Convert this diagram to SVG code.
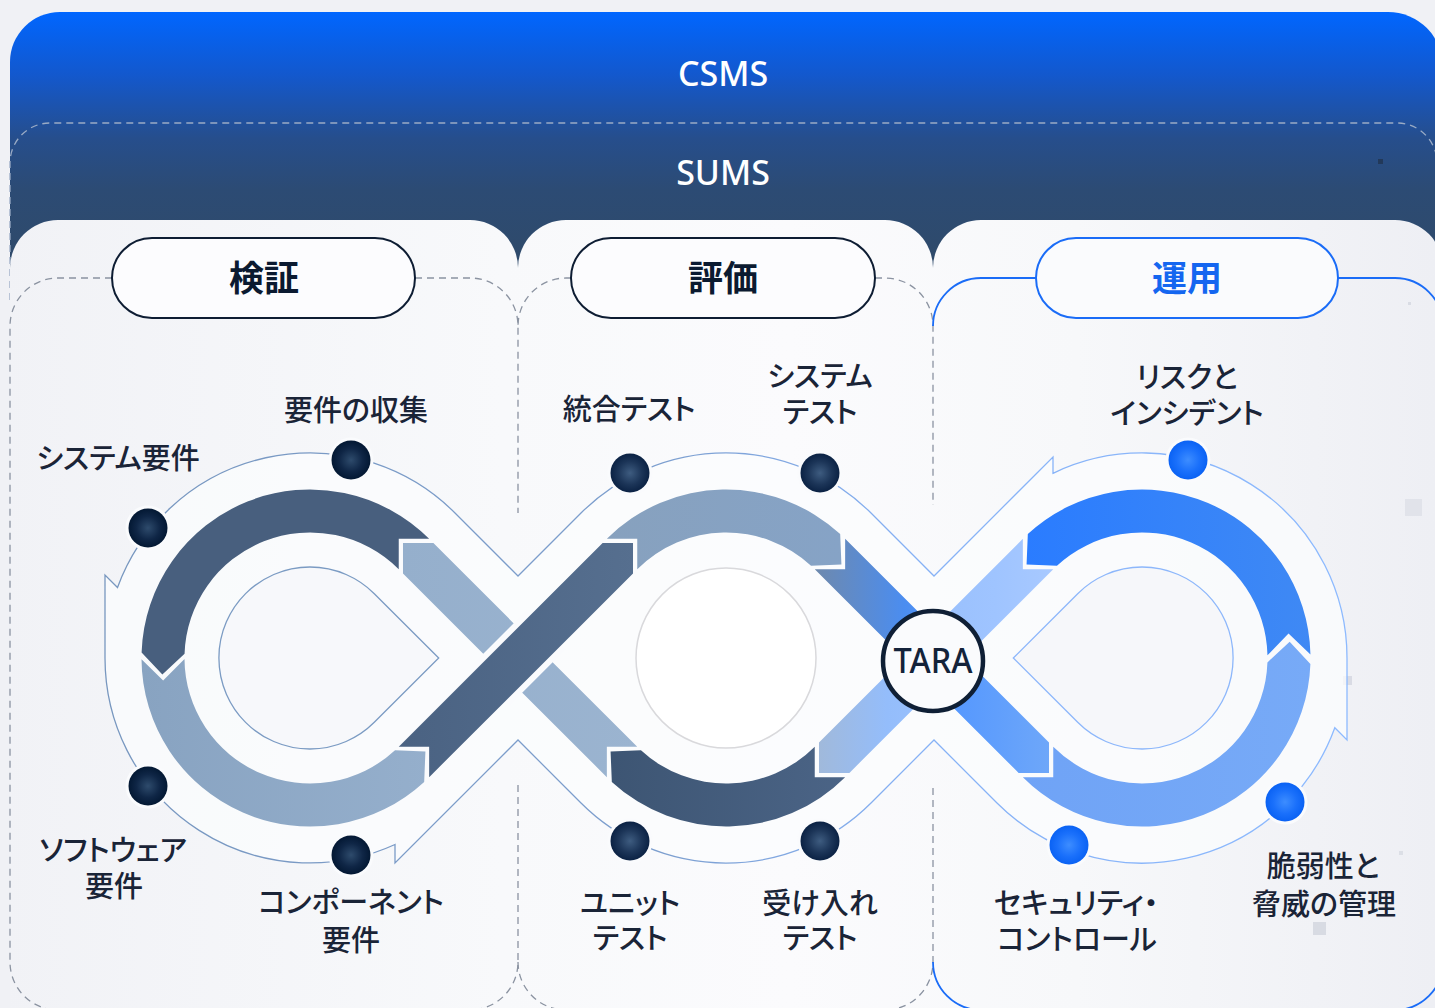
<svg xmlns="http://www.w3.org/2000/svg" width="1435" height="1008" viewBox="0 0 1435 1008">
<defs>
<style>
.lbl{font-family:'Noto Sans CJK JP','Noto Sans',sans-serif;font-size:29px;font-weight:500;fill:#1a2437;text-anchor:middle;font-feature-settings:"palt";}
.pt{font-family:'Noto Sans CJK JP','Noto Sans',sans-serif;font-size:35px;font-weight:700;text-anchor:middle;}
.hdr{font-family:'Noto Sans','Liberation Sans',sans-serif;font-size:34px;font-weight:500;fill:#ffffff;text-anchor:middle;}
.dash{fill:none;stroke:#8b93a1;stroke-width:1.3;stroke-dasharray:7 5;}
.dot{stroke:#fafbfd;stroke-width:6;paint-order:stroke;}
</style>
<linearGradient id="gHead" x1="0" y1="12" x2="0" y2="265" gradientUnits="userSpaceOnUse">
<stop offset="0" stop-color="#0066ff"/><stop offset="0.25" stop-color="#1358cd"/><stop offset="0.5" stop-color="#264e8c"/><stop offset="0.7" stop-color="#2c4b74"/><stop offset="1" stop-color="#2f4a6a"/>
</linearGradient>
<linearGradient id="gPanel" x1="0" y1="0" x2="1435" y2="0" gradientUnits="userSpaceOnUse">
<stop offset="0" stop-color="#f1f2f6"/><stop offset="0.35" stop-color="#f8f9fb"/><stop offset="0.55" stop-color="#fbfbfd"/><stop offset="0.75" stop-color="#f7f8fa"/><stop offset="1" stop-color="#eeeff4"/>
</linearGradient>
<linearGradient id="gLine" x1="100" y1="0" x2="1350" y2="0" gradientUnits="userSpaceOnUse">
<stop offset="0" stop-color="#7897bf"/><stop offset="0.45" stop-color="#7d9fcf"/><stop offset="0.65" stop-color="#86b1f5"/><stop offset="1" stop-color="#8dbaff"/>
</linearGradient>
<linearGradient id="gB" x1="140" y1="0" x2="430" y2="0" gradientUnits="userSpaceOnUse"><stop offset="0" stop-color="#88a3c1"/><stop offset="1" stop-color="#95afcc"/></linearGradient>
<linearGradient id="gC" x1="400" y1="0" x2="635" y2="0" gradientUnits="userSpaceOnUse"><stop offset="0" stop-color="#4a6282"/><stop offset="1" stop-color="#566f8f"/></linearGradient>
<linearGradient id="gD" x1="606" y1="0" x2="842" y2="0" gradientUnits="userSpaceOnUse"><stop offset="0" stop-color="#87a1be"/><stop offset="1" stop-color="#86a3c6"/></linearGradient>
<linearGradient id="gE" x1="815" y1="0" x2="1050" y2="0" gradientUnits="userSpaceOnUse"><stop offset="0" stop-color="#6e89ad"/><stop offset="0.38" stop-color="#4b8df0"/><stop offset="0.62" stop-color="#5799fe"/><stop offset="1" stop-color="#6ea7f9"/></linearGradient>
<linearGradient id="gH" x1="815" y1="0" x2="1055" y2="0" gradientUnits="userSpaceOnUse"><stop offset="0" stop-color="#a1b9d9"/><stop offset="0.3" stop-color="#94bdfb"/><stop offset="0.75" stop-color="#9fc4ff"/><stop offset="1" stop-color="#a8c9ff"/></linearGradient>
<linearGradient id="gF" x1="1020" y1="0" x2="1312" y2="0" gradientUnits="userSpaceOnUse"><stop offset="0" stop-color="#6fa3f6"/><stop offset="1" stop-color="#77aaf7"/></linearGradient>
<linearGradient id="gG" x1="1025" y1="0" x2="1312" y2="0" gradientUnits="userSpaceOnUse"><stop offset="0" stop-color="#2a7cff"/><stop offset="1" stop-color="#3f89f4"/></linearGradient>
<linearGradient id="gI" x1="610" y1="0" x2="846" y2="0" gradientUnits="userSpaceOnUse"><stop offset="0" stop-color="#3d5573"/><stop offset="1" stop-color="#4b6486"/></linearGradient>
<linearGradient id="gJ" x1="402" y1="0" x2="638" y2="0" gradientUnits="userSpaceOnUse"><stop offset="0" stop-color="#95afcc"/><stop offset="1" stop-color="#9bb4d0"/></linearGradient>
<radialGradient id="dNavy" cx="0.5" cy="0.5" r="0.5"><stop offset="0" stop-color="#2e4b6c"/><stop offset="0.6" stop-color="#0f2646"/><stop offset="1" stop-color="#031833"/></radialGradient>
<radialGradient id="dNavy2" cx="0.5" cy="0.5" r="0.5"><stop offset="0" stop-color="#3e5c80"/><stop offset="0.6" stop-color="#1c3558"/><stop offset="1" stop-color="#0b2244"/></radialGradient>
<radialGradient id="dBlue" cx="0.5" cy="0.5" r="0.5"><stop offset="0" stop-color="#3d8dff"/><stop offset="0.6" stop-color="#1a70fb"/><stop offset="1" stop-color="#0a62f4"/></radialGradient>
</defs>

<rect width="1435" height="1008" fill="#f0f1f5"/>

<g id="csms">
<path d="M10,62 A50,50 0 0 1 60,12 H1388 A55,55 0 0 1 1443,67 V300 H10 Z" fill="url(#gHead)"/>
<text class="hdr" x="723" y="86">CSMS</text>
</g>
<g id="sums">
<path d="M10,300 V163 A40,40 0 0 1 50,123 H1397 A40,40 0 0 1 1437,163 V300" fill="none" stroke="#9aabc5" stroke-width="1.3" stroke-dasharray="7 5"/>
<text class="hdr" x="723" y="185">SUMS</text>
<rect x="1378" y="159" width="5" height="5" fill="#22395a"/>
</g>

<g id="panels">
<path d="M10,268 A48,48 0 0 1 58,220 H470 A48,48 0 0 1 518,268 V1008 H10 Z" fill="url(#gPanel)"/>
<path d="M518,268 A48,48 0 0 1 566,220 H885 A48,48 0 0 1 933,268 V1008 H518 Z" fill="url(#gPanel)"/>
<path d="M933,268 A48,48 0 0 1 981,220 H1395 A48,48 0 0 1 1443,268 V1008 H933 Z" fill="url(#gPanel)"/>
<rect x="1405" y="499" width="17" height="17" fill="#e1e3ea"/>
<rect x="1343" y="676" width="9" height="9" fill="#d9dbe4"/>
<rect x="1313" y="922" width="13" height="13" fill="#d8dbe3"/>
<rect x="1399" y="851" width="4" height="4" fill="#dcdfe6"/>
<rect x="1408" y="302" width="3" height="3" fill="#d9dce4"/>
</g>

<g id="borders">
<path class="dash" d="M112,278 H58 A48,48 0 0 0 10,326 V962 A48,48 0 0 0 58,1010"/>
<path class="dash" d="M415,278 H470 A48,48 0 0 1 518,326 V513"/>
<path class="dash" d="M518,785 V962 A48,48 0 0 1 470,1010"/>
<path class="dash" d="M571,278 H566 A48,48 0 0 0 518,326"/>
<path class="dash" d="M518,962 A48,48 0 0 0 566,1010"/>
<path class="dash" d="M875,278 H885 A48,48 0 0 1 933,326 V505"/>
<path class="dash" d="M933,788 V962 A48,48 0 0 1 885,1010"/>
<path d="M933,326 A48,48 0 0 1 981,278 H1036 M1338,278 H1395 A48,48 0 0 1 1443,326 V962 A48,48 0 0 1 1395,1010 H981 A48,48 0 0 1 933,962" fill="none" stroke="#1a6cf7" stroke-width="1.8"/>
</g>

<g id="pill-kensho">
<rect x="112" y="238" width="303" height="80" rx="40" fill="#fcfcfe" stroke="#0e1d33" stroke-width="2"/>
<text class="pt" x="264" y="291" fill="#0b1a30">検証</text>
</g>
<g id="pill-hyoka">
<rect x="571" y="238" width="304" height="80" rx="40" fill="#fcfcfe" stroke="#0e1d33" stroke-width="2"/>
<text class="pt" x="723" y="291" fill="#0b1a30">評価</text>
</g>
<g id="pill-unyo">
<rect x="1036" y="238" width="302" height="80" rx="40" fill="#fafbfd" stroke="#1a6cf7" stroke-width="2"/>
<text class="pt" x="1187" y="291" fill="#1466f0">運用</text>
</g>

<g id="connectors">
<path d="M518,576 L455,513 A205,205 0 0 0 117.5,587.5 L105,575 L105,658 A205,205 0 0 0 395,844.5 L395,863 L518,740 L581,803 A205,205 0 0 0 871,803 L934,740 L997,803 A205,205 0 0 0 1334.8,727.8 L1347,740 L1347,658 A205,205 0 0 0 1053,473.3 L1053,457 L934,576 L871,513 A205,205 0 0 0 581,513 Z" fill="#fbfcfe" fill-opacity="0.75" stroke="url(#gLine)" stroke-width="1.3"/>
<path d="M438.7,658 L374.3,593.7 A91,91 0 1 0 374.3,722.3 Z" fill="#f7f8fb" stroke="#7b9bc3" stroke-width="1.3"/>
<path d="M1013.3,658 L1077.7,593.7 A91,91 0 1 1 1077.7,722.3 Z" fill="#f6f7fa" stroke="#8db7fb" stroke-width="1.3"/>
<circle cx="726" cy="658" r="90" fill="#ffffff" stroke="#d9d9dc" stroke-width="1.5"/>

<path d="M637.25,746.75 L433.39,543.09 L402.99,543.09 L402.99,573.49 L606.85,777.15 L606.85,746.75 Z" fill="url(#gJ)"/>
<polygon points="565.73,649.17 526.83,610.27 470.27,666.83 509.17,705.73" fill="#fafbfd"/>
<path d="M429.15,538.85 A168.5,168.5 0 0 0 141.59,652.41 L162.37,674.62 L184.57,653.84 A125.5,125.5 0 0 1 398.74,569.26 L398.75,538.85 Z" fill="#485f7e"/>
<path d="M141.50,659.18 A168.5,168.5 0 0 0 424.18,781.92 L425.42,751.54 L395.04,750.29 A125.5,125.5 0 0 1 184.50,658.88 L163.15,680.53 Z" fill="url(#gB)"/>
<path d="M398.75,746.75 L602.61,543.09 L633.01,543.09 L633.01,573.49 L429.15,777.15 L429.15,746.75 Z" fill="url(#gC)"/>
<path d="M606.85,538.85 A168.5,168.5 0 0 1 840.18,534.08 L841.42,564.46 L811.04,565.71 A125.5,125.5 0 0 0 637.26,569.26 L637.25,538.85 Z" fill="url(#gD)"/>
<path d="M845.15,777.15 A168.5,168.5 0 0 1 611.82,781.92 L610.58,751.54 L640.96,750.29 A125.5,125.5 0 0 0 814.74,746.74 L814.75,777.15 Z" fill="url(#gI)"/>
<path d="M1022.85,538.85 L818.99,742.51 L818.99,772.91 L849.39,772.91 L1053.25,569.25 L1022.85,569.25 Z" fill="url(#gH)"/>
<path d="M845.15,538.85 L1049.01,742.51 L1049.01,772.91 L1018.61,772.91 L814.75,569.25 L845.15,569.25 Z" fill="url(#gE)"/>
<path d="M1022.85,777.15 A168.5,168.5 0 0 0 1310.40,663.88 L1289.66,641.64 L1267.42,662.38 A125.5,125.5 0 0 1 1053.26,746.74 L1053.25,777.15 Z" fill="url(#gF)"/>
<path d="M1310.46,654.47 A168.5,168.5 0 0 0 1027.82,534.08 L1026.58,564.46 L1056.96,565.71 A125.5,125.5 0 0 1 1267.47,655.37 L1288.52,633.42 Z" fill="url(#gG)"/>
</g>

<g id="tara">
<circle cx="933" cy="661" r="50" fill="#fafbfd" stroke="#0f1f35" stroke-width="4.5"/>
<text x="933" y="673" font-family="'Noto Sans','Liberation Sans',sans-serif" font-size="35" font-weight="500" fill="#14233a" text-anchor="middle" textLength="79" lengthAdjust="spacingAndGlyphs">TARA</text>
</g>

<g id="n-system-req"><circle class="dot" cx="148" cy="528" r="19.5" fill="url(#dNavy)"/><text class="lbl" x="118" y="469">システム要件</text></g>
<g id="n-req-collect"><circle class="dot" cx="351" cy="460" r="19.5" fill="url(#dNavy)"/><text class="lbl" x="356" y="421">要件の収集</text></g>
<g id="n-sw-req"><circle class="dot" cx="148" cy="786" r="19.5" fill="url(#dNavy)"/><text class="lbl" x="113" y="861">ソフトウェア<tspan x="114" dy="36">要件</tspan></text></g>
<g id="n-comp-req"><circle class="dot" cx="351" cy="855" r="19.5" fill="url(#dNavy)"/><text class="lbl" x="351" y="913">コンポーネント<tspan x="351" dy="38">要件</tspan></text></g>
<g id="n-integ-test"><circle class="dot" cx="630" cy="473" r="19.5" fill="url(#dNavy2)"/><text class="lbl" x="629" y="420">統合テスト</text></g>
<g id="n-system-test"><circle class="dot" cx="820" cy="473" r="19.5" fill="url(#dNavy2)"/><text class="lbl" x="820" y="387">システム<tspan x="820" dy="36">テスト</tspan></text></g>
<g id="n-unit-test"><circle class="dot" cx="630" cy="841" r="19.5" fill="url(#dNavy2)"/><text class="lbl" x="630" y="914">ユニット<tspan x="630" dy="35">テスト</tspan></text></g>
<g id="n-accept-test"><circle class="dot" cx="820" cy="841" r="19.5" fill="url(#dNavy2)"/><text class="lbl" x="820" y="914">受け入れ<tspan x="820" dy="35">テスト</tspan></text></g>
<g id="n-risk"><circle class="dot" cx="1188" cy="460" r="19.5" fill="url(#dBlue)"/><text class="lbl" x="1187" y="388">リスクと<tspan x="1187" dy="36">インシデント</tspan></text></g>
<g id="n-vuln"><circle class="dot" cx="1285" cy="802" r="19.5" fill="url(#dBlue)"/><text class="lbl" x="1323" y="877">脆弱性と<tspan x="1324" dy="38">脅威の管理</tspan></text></g>
<g id="n-sec-ctrl"><circle class="dot" cx="1069" cy="845" r="19.5" fill="url(#dBlue)"/><text class="lbl" x="1076" y="914">セキュリティ・<tspan x="1077" dy="36">コントロール</tspan></text></g>
</svg>
